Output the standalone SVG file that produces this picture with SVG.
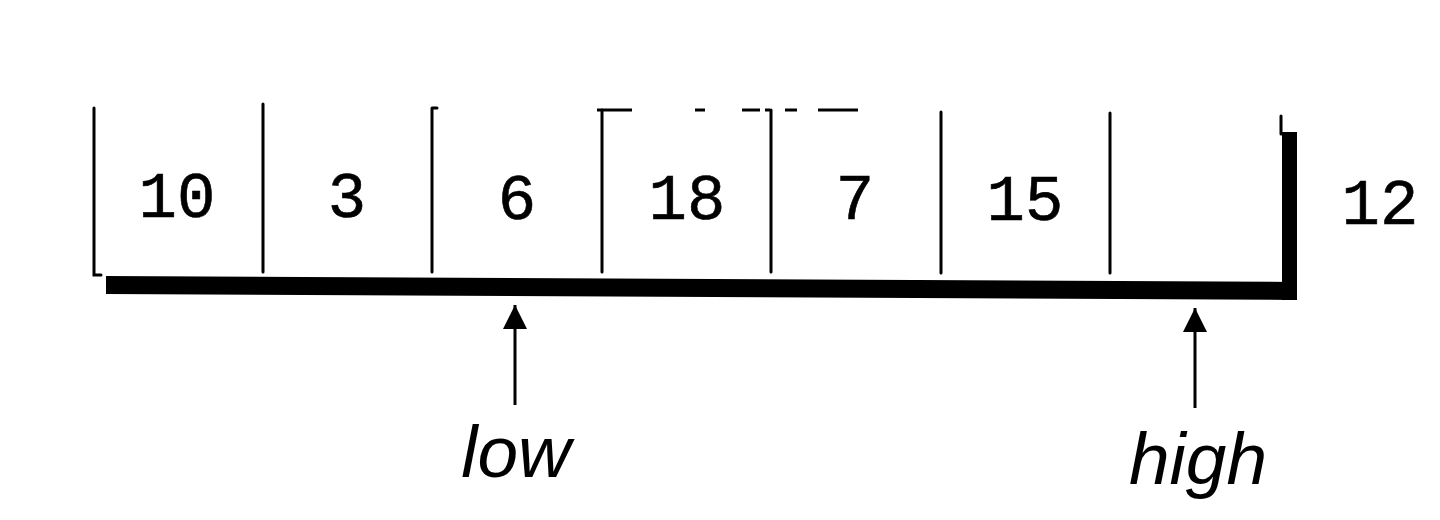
<svg xmlns="http://www.w3.org/2000/svg" width="1440" height="520" viewBox="0 0 1440 520">
<defs>
<style>
.div{stroke:#000;stroke-width:3;stroke-linecap:round;fill:none}
.num{font-family:"Liberation Mono","Courier New",monospace;font-size:64px;fill:#000;text-anchor:middle;stroke:#000;stroke-width:0.6}
.lbl{font-family:"Liberation Sans",Arial,sans-serif;font-style:italic;font-size:73px;fill:#000;text-anchor:middle}
.dash{stroke:#000;stroke-width:3;fill:none}
.conn{stroke:#000;stroke-width:3;fill:none}
</style>
<marker id="ah" viewBox="0 0 10 10" refX="10" refY="5" markerWidth="26" markerHeight="24" markerUnits="userSpaceOnUse" orient="auto">
<path d="M0,0 L10,5 L0,10 Z" fill="#000"/>
</marker>
</defs>
<rect width="1440" height="520" fill="#fff"/>
<g id="array">
<polygon points="106,276 1297,282 1297,300 106,294" fill="#000"/>
<polygon points="1282,132 1297,132 1297,300 1282,300" fill="#000"/>
<line class="div" x1="1281" y1="116" x2="1281" y2="134"/>
<path class="div" d="M94,108 L94,275 L101,275"/>
<line class="div" x1="263" y1="104" x2="263" y2="272"/>
<path class="div" d="M432,108 L432,272 M432,108 L437,108"/>
<path class="div" d="M602,110 L602,272"/>
<line class="div" x1="771" y1="110" x2="771" y2="272"/>
<line class="div" x1="941" y1="112" x2="941" y2="273"/>
<line class="div" x1="1110" y1="113" x2="1110" y2="273"/>
<path class="dash" d="M597,110 H632 M695,110 H705 M742,110 H760 M765,110 H770 M785,110 H797 M818,110 H858"/>
</g>
<g id="cells">
<text class="num" x="177" y="217">10</text>
<text class="num" x="347" y="217">3</text>
<text class="num" x="517" y="219">6</text>
<text class="num" x="687" y="219">18</text>
<text class="num" x="855" y="219">7</text>
<text class="num" x="1025" y="220">15</text>
<text class="num" x="1380" y="224">12</text>
</g>
<g id="connectors">
<line class="conn" x1="515" y1="405" x2="515" y2="305" marker-end="url(#ah)"/>
<line class="conn" x1="1195" y1="408" x2="1195" y2="308" marker-end="url(#ah)"/>
</g>
<g id="low"><text class="lbl" x="516" y="477">low</text></g>
<g id="high"><text class="lbl" x="1198" y="484">high</text></g>
</svg>
